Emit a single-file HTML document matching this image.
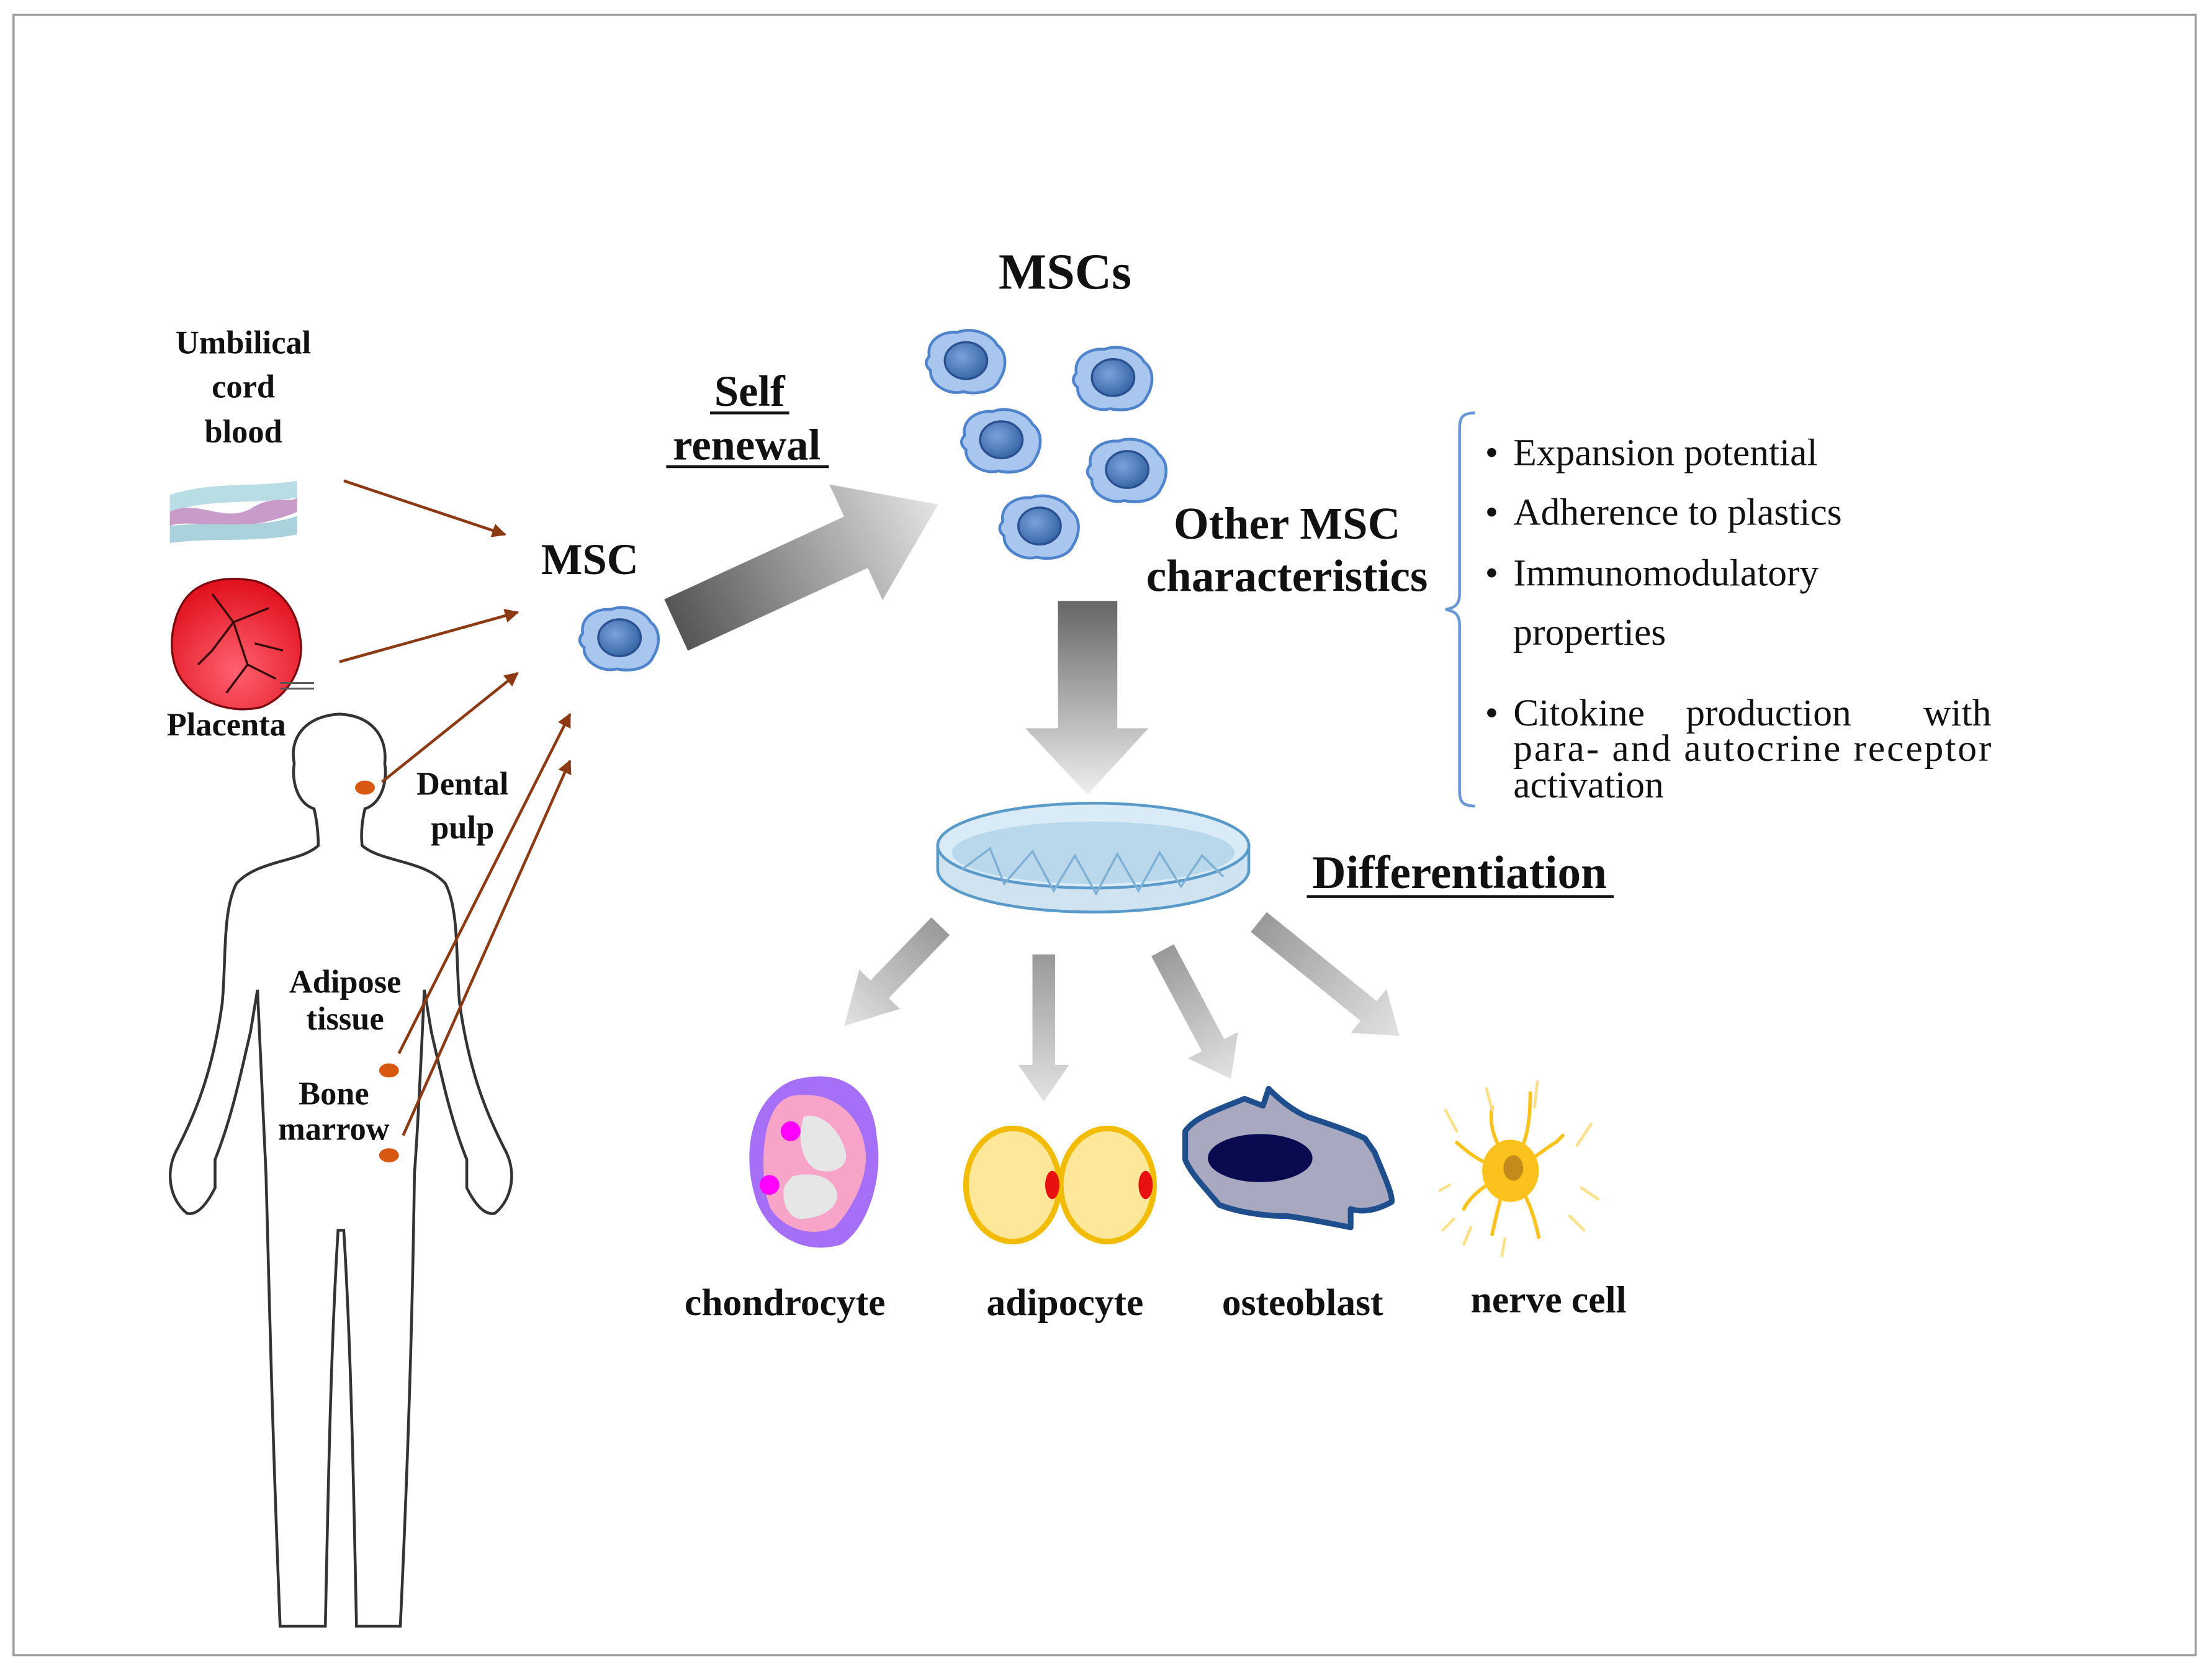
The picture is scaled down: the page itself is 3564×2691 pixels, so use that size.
<!DOCTYPE html>
<html><head><meta charset="utf-8"><style>
html,body{margin:0;padding:0;background:#fff}
svg{display:block}
text{font-family:"Liberation Serif",serif;font-weight:bold;fill:#111}
</style></head><body>
<svg width="3564" height="2691" viewBox="0 0 1564 1181" xmlns="http://www.w3.org/2000/svg">
<defs>
<linearGradient id="gR" x1="0" x2="1" y1="0" y2="0"><stop offset="0" stop-color="#555"/><stop offset="1" stop-color="#e4e4e4"/></linearGradient>
<linearGradient id="gD" x1="0" x2="0" y1="0" y2="1"><stop offset="0" stop-color="#666"/><stop offset="1" stop-color="#eee"/></linearGradient>
<linearGradient id="gS" x1="0" x2="1" y1="0" y2="0"><stop offset="0" stop-color="#999"/><stop offset="1" stop-color="#e2e2e2"/></linearGradient>
<radialGradient id="gN" cx="0.4" cy="0.4" r="0.7"><stop offset="0" stop-color="#7aa3dc"/><stop offset="1" stop-color="#2f5e9e"/></radialGradient>
<radialGradient id="gP" cx="0.5" cy="0.7" r="0.7"><stop offset="0" stop-color="#ff6070"/><stop offset="1" stop-color="#e0101c"/></radialGradient>
<marker id="ah" viewBox="0 0 10 10" refX="9" refY="5" markerWidth="5" markerHeight="5" orient="auto"><path d="M0,0 L10,5 L0,10 z" fill="#8b3a14"/></marker>
<g id="cell">
<path d="M-26,-4 C-28,-16 -16,-22 -6,-21 C4,-25 18,-20 22,-12 C30,-6 28,6 24,12 C20,22 6,23 -2,21 C-12,24 -26,16 -25,6 C-30,2 -28,-2 -26,-4 z" fill="#a9c6ee" stroke="#4f84cc" stroke-width="2"/>
<ellipse cx="0" cy="-1" rx="15" ry="13" fill="url(#gN)" stroke="#2a5090" stroke-width="1.5"/>
</g>
</defs>
<rect x="0" y="0" width="1564" height="1181" fill="#fff"/>
<rect x="9.5" y="10.5" width="1543" height="1160" fill="none" stroke="#999" stroke-width="1.5"/>

<g>
<path d="M120,350 C150,340 180,345 210,340 L210,352 C180,357 150,352 120,362 z" fill="#b8dde4"/>
<path d="M120,362 C140,352 160,372 180,358 C195,350 205,356 210,352 L210,362 C195,368 180,372 160,372 C145,372 130,368 120,372 z" fill="#c99bc8"/>
<path d="M120,372 C150,368 180,375 210,365 L210,378 C180,384 150,380 120,384 z" fill="#a9d2dc"/>
</g>
<text x="172" y="250" font-size="23" text-anchor="middle">Umbilical</text>
<text x="172" y="281" font-size="23" text-anchor="middle">cord</text>
<text x="172" y="313" font-size="23" text-anchor="middle">blood</text>

<path d="M130,425 C140,410 160,408 175,410 C195,412 210,430 212,450 C216,470 205,492 185,500 C165,505 140,498 128,480 C118,465 120,440 130,425 z" fill="url(#gP)" stroke="#7a0a10" stroke-width="1.5"/>
<g stroke="#3a0a0a" stroke-width="1.5" fill="none">
<path d="M150,420 L165,440 L150,460 L140,470"/><path d="M165,440 L190,430"/><path d="M165,440 L175,470 L195,480"/><path d="M175,470 L160,490"/><path d="M180,455 L200,460"/>
</g>
<path d="M198,483 L222,483 M198,487 L222,487" stroke="#555" stroke-width="1.3"/>
<text x="160" y="520" font-size="23" text-anchor="middle">Placenta</text>

<path d="M225,598 C225,590 224,580 222,572 C210,568 206,552 208,540 C204,520 218,506 240,505 C262,506 274,520 272,540 C274,552 270,568 258,572 C256,580 255,590 256,598 C270,610 300,608 315,625 C325,645 322,680 325,710 C332,760 345,790 358,815 C365,830 362,848 350,858 C342,860 335,850 330,840 L330,820 C318,790 312,760 305,730 L300,700 C298,740 296,790 293,830 C292,900 290,1000 283,1150 L252,1150 C250,1050 248,950 243,870 L239,870 C234,950 232,1050 230,1150 L198,1150 C192,1000 190,900 188,830 C186,790 184,740 182,700 L177,730 C170,760 164,790 152,820 L152,840 C147,850 140,860 132,858 C120,848 117,830 124,815 C137,790 150,760 157,710 C160,680 157,645 167,625 C182,608 212,610 225,598 z" fill="none" stroke="#333" stroke-width="2"/>
<ellipse cx="258" cy="557" rx="7" ry="5" fill="#d9580f"/>
<ellipse cx="275" cy="757" rx="7" ry="5" fill="#d9580f"/>
<ellipse cx="275" cy="817" rx="7" ry="5" fill="#d9580f"/>
<text x="327" y="562" font-size="23" text-anchor="middle">Dental</text>
<text x="327" y="593" font-size="23" text-anchor="middle">pulp</text>
<text x="244" y="702" font-size="23" text-anchor="middle">Adipose</text>
<text x="244" y="728" font-size="23" text-anchor="middle">tissue</text>
<text x="236" y="781" font-size="23" text-anchor="middle">Bone</text>
<text x="236" y="806" font-size="23" text-anchor="middle">marrow</text>

<g stroke="#8b3a14" stroke-width="2" marker-end="url(#ah)">
<line x1="243" y1="340" x2="357" y2="378"/>
<line x1="240" y1="468" x2="366" y2="433"/>
<line x1="270" y1="553" x2="366" y2="476"/>
<line x1="282" y1="745" x2="403" y2="505"/>
<line x1="285" y1="803" x2="403" y2="538"/>
</g>

<text x="417" y="406" font-size="31" text-anchor="middle">MSC</text>
<use href="#cell" x="438" y="452"/>

<g transform="translate(478,442) rotate(-24.7)">
<polygon points="0,-20 140,-20 140,-45 204,0 140,45 140,20 0,20" fill="url(#gR)"/>
</g>
<text x="530" y="287" font-size="31" text-anchor="middle">Self</text>
<text x="528" y="325" font-size="31" text-anchor="middle">renewal</text>
<line x1="502" y1="292" x2="558" y2="292" stroke="#111" stroke-width="2"/>
<line x1="471" y1="330" x2="586" y2="330" stroke="#111" stroke-width="2"/>

<text x="753" y="204" font-size="36" text-anchor="middle">MSCs</text>
<use href="#cell" x="683" y="256"/>
<use href="#cell" x="787" y="268"/>
<use href="#cell" x="708" y="312"/>
<use href="#cell" x="797" y="333"/>
<use href="#cell" x="735" y="373"/>

<text x="910" y="381" font-size="32" text-anchor="middle">Other MSC</text>
<text x="910" y="418" font-size="32" text-anchor="middle">characteristics</text>

<path d="M1043,292 C1033,292 1032,296 1032,305 L1032,420 C1032,428 1028,430 1022,431 C1028,432 1032,434 1032,442 L1032,558 C1032,566 1033,570 1043,570" fill="none" stroke="#6a97d6" stroke-width="2"/>
<g font-size="27">
<text x="1050" y="329" style="font-weight:normal">•</text><text x="1070" y="329" style="font-weight:normal">Expansion potential</text>
<text x="1050" y="371" style="font-weight:normal">•</text><text x="1070" y="371" style="font-weight:normal">Adherence to plastics</text>
<text x="1050" y="414" style="font-weight:normal">•</text><text x="1070" y="414" style="font-weight:normal">Immunomodulatory</text>
<text x="1070" y="456" style="font-weight:normal">properties</text>
<text x="1050" y="513" style="font-weight:normal">•</text>
<text x="1070" y="513" style="font-weight:normal">Citokine</text><text x="1192" y="513" style="font-weight:normal">production</text><text x="1408" y="513" text-anchor="end" style="font-weight:normal">with</text>
<text x="1070" y="538" style="font-weight:normal" textLength="338">para- and autocrine receptor</text>
<text x="1070" y="564" style="font-weight:normal">activation</text>
</g>

<polygon points="748,425 790,425 790,515 812,515 769,562 725,515 748,515" fill="url(#gD)"/>

<path d="M663,598 L663,615 C663,632 712,645 773,645 C834,645 883,632 883,615 L883,598 z" fill="#cfe3f0" stroke="#5a9ac8" stroke-width="2"/>
<ellipse cx="773" cy="598" rx="110" ry="30" fill="#d8ebf6" stroke="#5a9ac8" stroke-width="2"/>
<ellipse cx="773" cy="603" rx="100" ry="22" fill="#b9d8ec"/>
<path d="M680,615 L700,600 L710,625 L730,602 L745,630 L760,605 L775,632 L790,604 L805,630 L820,603 L835,627 L850,605 L865,620" fill="none" stroke="#7fb0d3" stroke-width="1.5"/>
<text x="1032" y="628" font-size="33" text-anchor="middle">Differentiation</text>
<line x1="924" y1="634" x2="1141" y2="634" stroke="#111" stroke-width="2"/>

<g transform="translate(665,655) rotate(134)"><polygon points="0,-9 62,-9 62,-20 98,0 62,20 62,9 0,9" fill="url(#gS)"/></g>
<g transform="translate(738,675) rotate(90)"><polygon points="0,-8 78,-8 78,-18 104,0 78,18 78,8 0,8" fill="url(#gS)"/></g>
<g transform="translate(822,672) rotate(62)"><polygon points="0,-9 76,-9 76,-20 103,0 76,20 76,9 0,9" fill="url(#gS)"/></g>
<g transform="translate(890,652) rotate(39)"><polygon points="0,-9 100,-9 100,-20 128,0 100,20 100,9 0,9" fill="url(#gS)"/></g>

<path d="M570,762 C600,757 618,775 620,805 C625,835 612,870 595,880 C570,888 545,875 535,850 C525,820 530,790 545,775 C552,767 560,763 570,762 z" fill="#a66ff7"/>
<path d="M560,775 C590,770 610,790 612,815 C614,835 600,858 590,868 C575,875 555,870 545,855 C538,840 538,805 545,790 C548,782 553,777 560,775 z" fill="#f7a4c8"/>
<path d="M568,790 C580,785 595,800 598,815 C600,825 590,830 580,828 C570,826 565,812 566,800 z" fill="#e6e6e6"/>
<path d="M560,832 C575,828 590,832 592,845 C592,855 580,862 565,862 C555,860 552,845 555,838 z" fill="#e6e6e6"/>
<circle cx="559" cy="800" r="7" fill="#f0f"/>
<circle cx="544" cy="838" r="7" fill="#f0f"/>

<ellipse cx="716" cy="838" rx="33" ry="40" fill="#ffe79a" stroke="#f2bc00" stroke-width="4"/>
<ellipse cx="783" cy="838" rx="33" ry="40" fill="#ffe79a" stroke="#f2bc00" stroke-width="4"/>
<ellipse cx="744" cy="838" rx="5" ry="10" fill="#e81010"/>
<ellipse cx="810" cy="838" rx="5" ry="10" fill="#e81010"/>

<path d="M838,800 C845,790 860,785 880,777 L893,782 L897,770 C905,778 915,786 925,790 C940,795 955,800 965,805 L972,815 C978,830 985,845 984,850 C975,855 965,858 955,855 L955,868 C940,865 925,862 910,860 C890,860 872,856 862,852 C852,840 842,830 838,820 z" fill="#a8a8c0" stroke="#1e4f8c" stroke-width="4" stroke-linejoin="round"/>
<ellipse cx="891" cy="819" rx="37" ry="17" fill="#0a0a50"/>

<g stroke="#fbc21d" stroke-width="2.5" fill="none" stroke-linecap="round">
<path d="M1068,828 C1060,810 1052,800 1055,783"/>
<path d="M1068,828 C1078,810 1082,800 1082,773"/>
<path d="M1068,828 C1050,825 1038,815 1030,808"/>
<path d="M1068,828 C1085,820 1095,810 1100,808 L1105,803"/>
<path d="M1068,828 C1050,838 1040,845 1035,855"/>
<path d="M1068,828 C1060,848 1058,860 1055,873"/>
<path d="M1068,828 C1080,845 1085,860 1088,875"/>
</g>
<g stroke="#fde08a" stroke-width="2" fill="none" stroke-linecap="round">
<path d="M1022,785 L1030,800"/><path d="M1051,770 L1055,785"/><path d="M1087,765 L1085,783"/>
<path d="M1125,795 L1115,810"/><path d="M1018,842 L1025,838"/><path d="M1118,840 L1130,848"/>
<path d="M1035,880 L1040,868"/><path d="M1062,888 L1064,876"/><path d="M1120,870 L1110,860"/><path d="M1020,870 L1028,862"/>
</g>
<ellipse cx="1068" cy="828" rx="20" ry="22" fill="#fbc21d"/>
<ellipse cx="1070" cy="826" rx="7" ry="9" fill="#c68a1c"/>

<text x="555" y="930" font-size="27" text-anchor="middle">chondrocyte</text>
<text x="753" y="930" font-size="27" text-anchor="middle">adipocyte</text>
<text x="921" y="930" font-size="27" text-anchor="middle">osteoblast</text>
<text x="1095" y="928" font-size="27" text-anchor="middle">nerve cell</text>
</svg>
</body></html>
